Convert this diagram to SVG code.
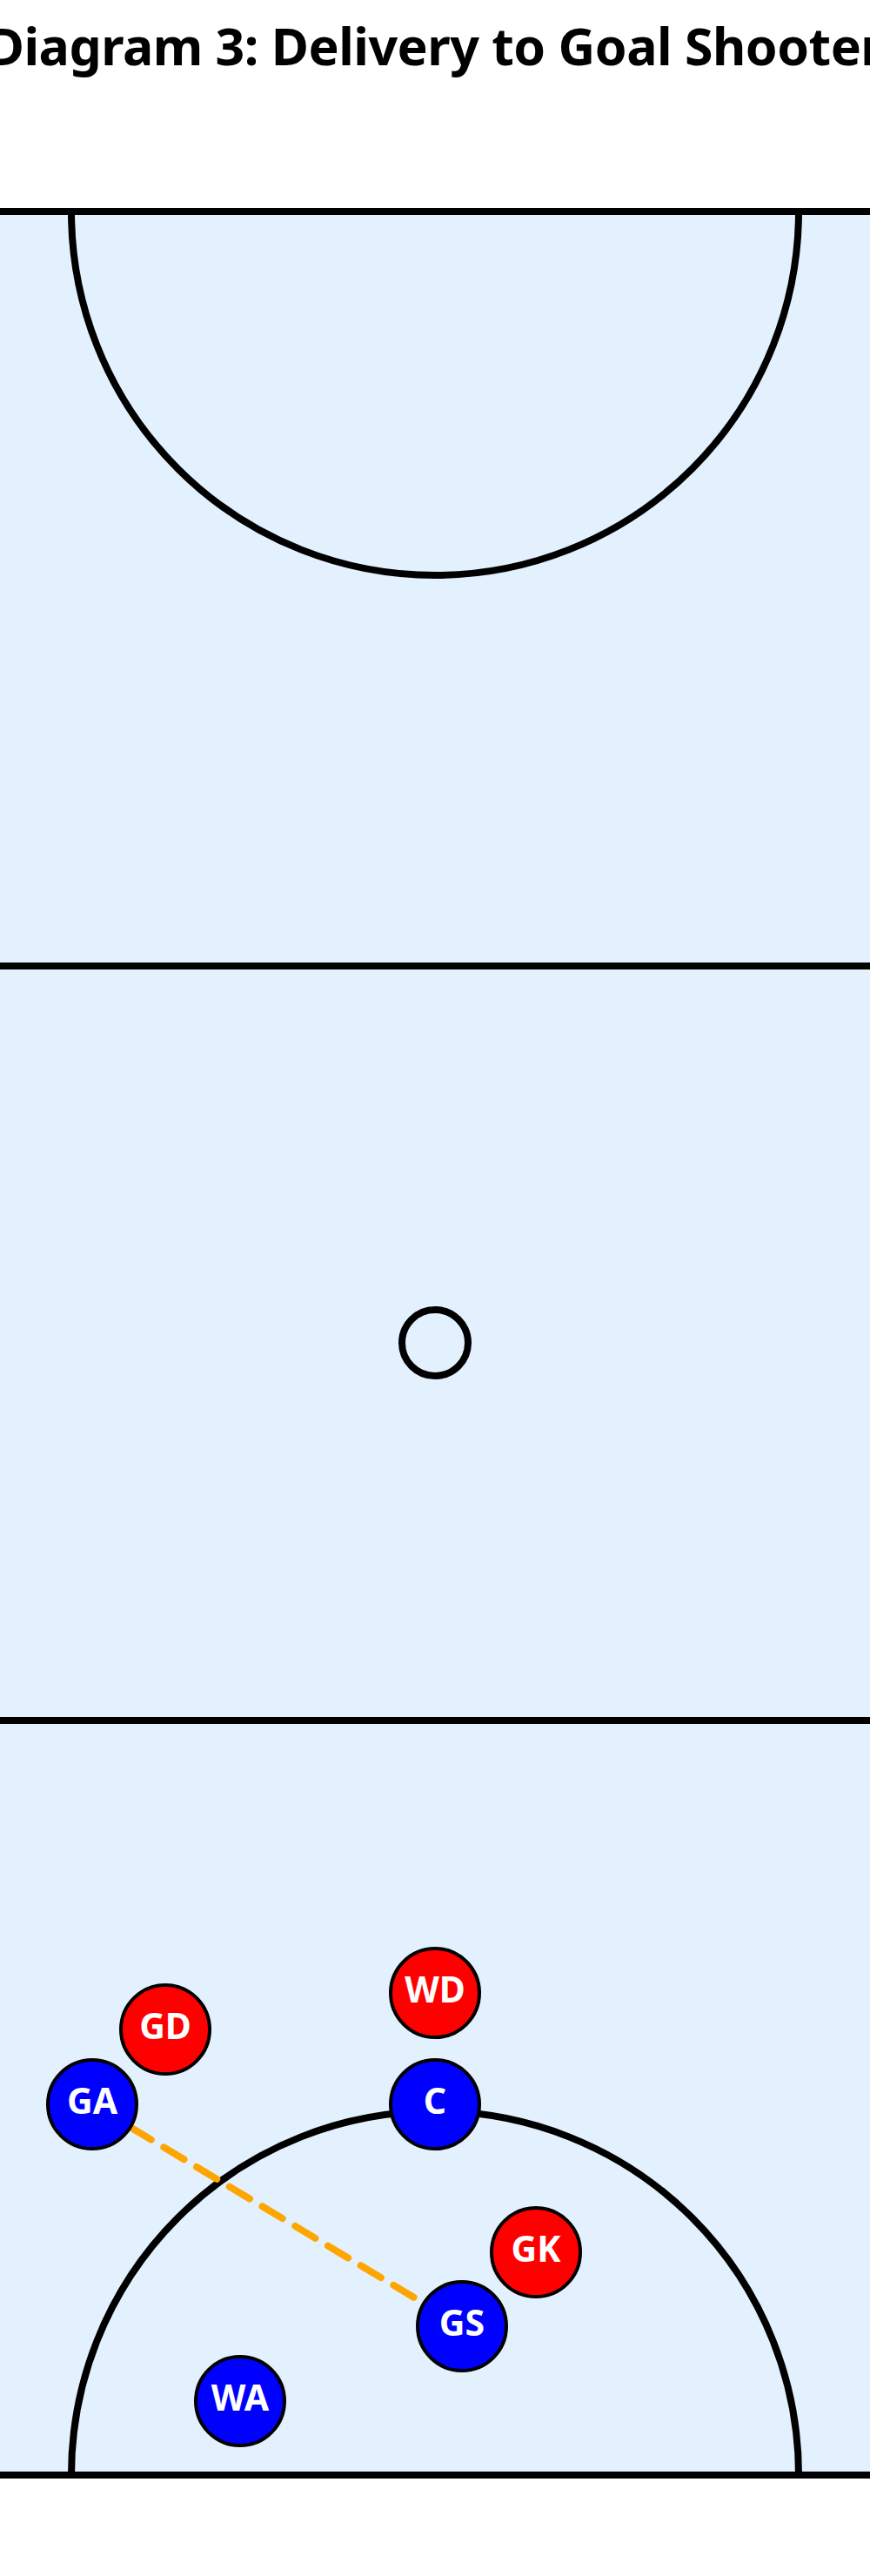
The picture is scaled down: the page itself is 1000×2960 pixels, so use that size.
<svg xmlns="http://www.w3.org/2000/svg" width="1000" height="2960" viewBox="0 0 1000 2960">
  <style>
    .title { font-family: "Noto Sans", "Open Sans", "Liberation Sans", sans-serif; font-weight: 700; font-size: 59px; letter-spacing: -0.5px; fill: #000; }
    .court { fill: #E3F0FD; }
    .line { stroke: #000; stroke-width: 8; fill: none; }
    .centre { stroke: #000; stroke-width: 8; fill: none; }
    .pass { stroke: #FFA500; stroke-width: 8; stroke-dasharray: 27 17; stroke-linecap: round; fill: none; }
    .attack circle { fill: #0000FF; stroke: #000; stroke-width: 4; }
    .defence circle { fill: #FF0000; stroke: #000; stroke-width: 4; }
    .lbl { font-family: "Noto Sans", "Open Sans", "Liberation Sans", sans-serif; font-weight: 700; font-size: 41px; fill: #FFFFFF; text-anchor: middle; }
  </style>
  <rect x="0" y="0" width="1000" height="2960" fill="#FFFFFF"/>
  <text class="title" x="500" y="75" text-anchor="middle">Diagram 3: Delivery to Goal Shooter</text>

  <g id="court">
    <rect class="court" x="0" y="243" width="1000" height="2601"/>
    <path class="line" d="M 82 243 A 418 418 0 0 0 918 243"/>
    <path class="line" d="M 82 2844 A 418 418 0 0 1 918 2844"/>
    <circle class="centre" cx="500" cy="1543" r="38"/>
    <line class="line" x1="0" y1="243" x2="1000" y2="243"/>
    <line class="line" x1="0" y1="1110" x2="1000" y2="1110"/>
    <line class="line" x1="0" y1="1977" x2="1000" y2="1977"/>
    <line class="line" x1="0" y1="2844" x2="1000" y2="2844"/>
  </g>

  <g id="connectors">
    <line class="pass" x1="150.6" y1="2444.7" x2="486.4" y2="2646.3"/>
  </g>

  <g id="GD" class="defence"><circle cx="190" cy="2332" r="51"/><text class="lbl" x="190" y="2343">GD</text></g>
  <g id="WD" class="defence"><circle cx="500" cy="2290" r="51"/><text class="lbl" x="500" y="2301">WD</text></g>
  <g id="GK" class="defence"><circle cx="616" cy="2588" r="51"/><text class="lbl" x="616" y="2599">GK</text></g>
  <g id="GA" class="attack"><circle cx="106" cy="2418" r="51"/><text class="lbl" x="106" y="2429">GA</text></g>
  <g id="C" class="attack"><circle cx="500" cy="2418" r="51"/><text class="lbl" x="500" y="2429">C</text></g>
  <g id="GS" class="attack"><circle cx="531" cy="2673" r="51"/><text class="lbl" x="531" y="2684">GS</text></g>
  <g id="WA" class="attack"><circle cx="276" cy="2759" r="51"/><text class="lbl" x="276" y="2770">WA</text></g>
</svg>
